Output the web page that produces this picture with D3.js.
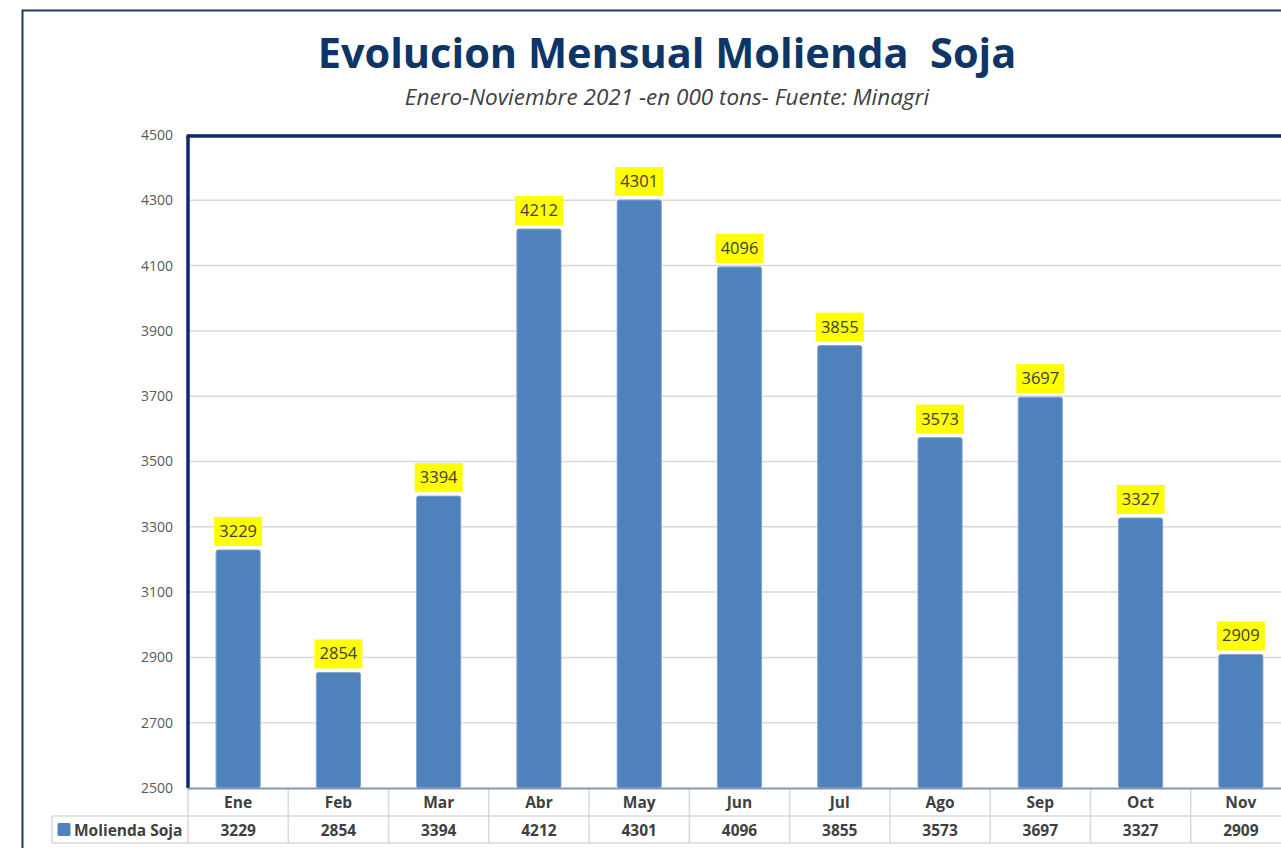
<!DOCTYPE html>
<html>
<head>
<meta charset="utf-8">
<script src="https://cdn.jsdelivr.net/npm/d3@7"></script>
<style>
  body { margin: 0; background: #fff; }
  svg { display: block; }
</style>
</head>
<body>
<div class="chart"></div>
<script>
// data
var months = ["Ene", "Feb", "Mar", "Abr", "May", "Jun", "Jul", "Ago", "Sep", "Oct", "Nov"];
var molienda = [3229, 2854, 3394, 4212, 4301, 4096, 3855, 3573, 3697, 3327, 2909];
var yTicks = [2500, 2700, 2900, 3100, 3300, 3500, 3700, 3900, 4100, 4300, 4500];
var seriesName = "Molienda Soja";
var titleText = "Evolucion Mensual Molienda\u00a0\u00a0Soja";
var subtitleText = "Enero-Noviembre 2021 -en 000 tons- Fuente: Minagri";

var svgWidth = 1281;
var svgHeight = 848;

var margin = { top: 136, left: 188, bottom: 60 };
var plotRight = 1291;
var plotBottom = 788;

var font = "'Open Sans', sans-serif";

var svg = d3.select(".chart")
    .append("svg")
    .attr("width", svgWidth)
    .attr("height", svgHeight)
    .style("font-family", font);

// outer frame
svg.append("rect")
    .attr("x", 22.5)
    .attr("y", 10.5)
    .attr("width", 1300)
    .attr("height", 900)
    .attr("fill", "none")
    .attr("stroke", "#1f3864")
    .attr("stroke-width", 2);

// titles
svg.append("text")
    .attr("x", 667)
    .attr("y", 68)
    .attr("text-anchor", "middle")
    .style("font-size", "41.5px")
    .style("font-weight", "bold")
    .style("fill", "#0d3566")
    .text(titleText);

svg.append("text")
    .attr("x", 667)
    .attr("y", 105)
    .attr("text-anchor", "middle")
    .style("font-size", "22.5px")
    .style("font-style", "italic")
    .style("fill", "#404040")
    .text(subtitleText);

// scales
var xBand = d3.scaleBand()
    .domain(months)
    .range([margin.left, plotRight])
    .padding(0);

var yLinearScale = d3.scaleLinear()
    .domain([2500, 4500])
    .range([plotBottom, margin.top - 1]);

var barWidth = xBand.bandwidth() * 0.44;

// gridlines
svg.append("g")
    .selectAll("line")
    .data(yTicks.slice(1))
    .enter()
    .append("line")
    .attr("x1", margin.left)
    .attr("x2", plotRight)
    .attr("y1", d => yLinearScale(d))
    .attr("y2", d => yLinearScale(d))
    .attr("stroke", "#d9d9d9")
    .attr("stroke-width", 1.5);

// y axis labels
var leftAxis = d3.axisLeft(yLinearScale)
    .tickValues(yTicks)
    .tickFormat(d3.format("d"))
    .tickSize(0)
    .tickPadding(15);

var yAxisG = svg.append("g")
    .attr("transform", `translate(${margin.left}, 0)`)
    .call(leftAxis);
yAxisG.select(".domain").remove();
yAxisG.selectAll("text")
    .style("font-family", font)
    .style("font-size", "14px")
    .style("fill", "#595959");

// bars
svg.append("g")
    .selectAll("rect")
    .data(molienda)
    .enter()
    .append("rect")
    .attr("x", (d, i) => xBand(months[i]) + (xBand.bandwidth() - barWidth) / 2)
    .attr("y", d => yLinearScale(d))
    .attr("width", barWidth)
    .attr("height", d => plotBottom - yLinearScale(d))
    .attr("rx", 2)
    .attr("fill", "#4f81bd")
    .attr("stroke", "#7fa3d1")
    .attr("stroke-width", 1);

// data labels with yellow background
var labels = svg.append("g")
    .selectAll("g")
    .data(molienda)
    .enter()
    .append("g")
    .attr("transform", (d, i) => `translate(${xBand(months[i]) + xBand.bandwidth() / 2}, ${yLinearScale(d) - 4})`);

labels.append("rect")
    .attr("x", -24)
    .attr("y", -29)
    .attr("width", 48)
    .attr("height", 29)
    .attr("fill", "#ffff00");

labels.append("text")
    .attr("text-anchor", "middle")
    .attr("y", -9)
    .style("font-size", "16.5px")
    .style("fill", "#404040")
    .text(d => d);

// plot frame: thick top and left lines
svg.append("line")
    .attr("x1", margin.left - 1.5)
    .attr("x2", plotRight)
    .attr("y1", margin.top)
    .attr("y2", margin.top)
    .attr("stroke", "#0d2a6b")
    .attr("stroke-width", 3.5);
svg.append("line")
    .attr("x1", margin.left)
    .attr("x2", margin.left)
    .attr("y1", margin.top)
    .attr("y2", plotBottom)
    .attr("stroke", "#0d2a6b")
    .attr("stroke-width", 3.5);

// data table under the axis
var rowTop = plotBottom;
var rowMid = 816;
var rowEnd = 843;
var tableG = svg.append("g");

// vertical cell lines
tableG.selectAll("line.col")
    .data(months.concat(["end"]))
    .enter()
    .append("line")
    .attr("class", "col")
    .attr("x1", (d, i) => margin.left + i * xBand.bandwidth())
    .attr("x2", (d, i) => margin.left + i * xBand.bandwidth())
    .attr("y1", rowTop)
    .attr("y2", rowEnd)
    .attr("stroke", "#d9d9d9")
    .attr("stroke-width", 1.5);

// horizontal cell lines
tableG.append("line")
    .attr("x1", 52).attr("x2", plotRight)
    .attr("y1", rowMid).attr("y2", rowMid)
    .attr("stroke", "#d9d9d9").attr("stroke-width", 1.5);
tableG.append("line")
    .attr("x1", 52).attr("x2", plotRight)
    .attr("y1", rowEnd).attr("y2", rowEnd)
    .attr("stroke", "#d9d9d9").attr("stroke-width", 1.5);
tableG.append("line")
    .attr("x1", 52).attr("x2", 52)
    .attr("y1", rowMid).attr("y2", rowEnd)
    .attr("stroke", "#d9d9d9").attr("stroke-width", 1.5);

// category axis line
svg.append("line")
    .attr("x1", margin.left)
    .attr("x2", plotRight)
    .attr("y1", plotBottom + 0.5)
    .attr("y2", plotBottom + 0.5)
    .attr("stroke", "#8497b0")
    .attr("stroke-width", 2);

tableG.selectAll("text.month")
    .data(months)
    .enter()
    .append("text")
    .attr("class", "month")
    .attr("x", d => xBand(d) + xBand.bandwidth() / 2)
    .attr("y", 808)
    .attr("text-anchor", "middle")
    .style("font-size", "15.5px")
    .style("font-weight", "bold")
    .style("fill", "#404040")
    .text(d => d);

tableG.selectAll("text.val")
    .data(molienda)
    .enter()
    .append("text")
    .attr("class", "val")
    .attr("x", (d, i) => xBand(months[i]) + xBand.bandwidth() / 2)
    .attr("y", 836)
    .attr("text-anchor", "middle")
    .style("font-size", "15.5px")
    .style("font-weight", "bold")
    .style("fill", "#404040")
    .text(d => d);

// legend key in the table
tableG.append("rect")
    .attr("x", 57.5)
    .attr("y", 823)
    .attr("width", 13)
    .attr("height", 13)
    .attr("rx", 1.5)
    .attr("fill", "#4f81bd");

tableG.append("text")
    .attr("x", 74)
    .attr("y", 836)
    .style("font-size", "15.5px")
    .style("font-weight", "bold")
    .style("fill", "#404040")
    .text(seriesName);
</script>
</body>
</html>
